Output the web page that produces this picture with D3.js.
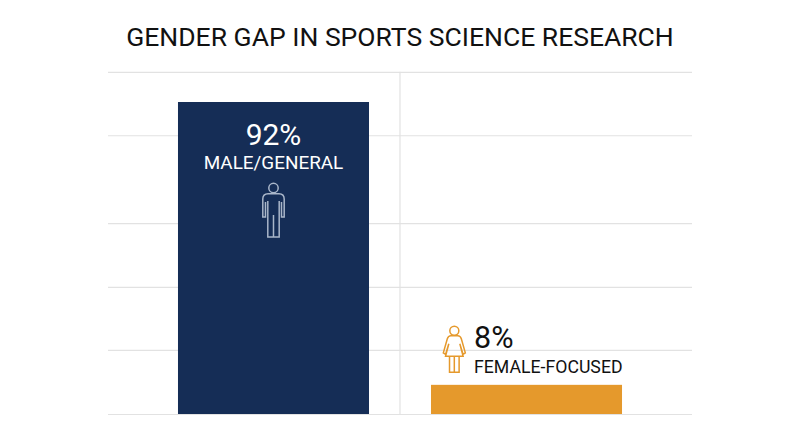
<!DOCTYPE html>
<html>
<head>
<meta charset="utf-8">
<script src="https://cdn.jsdelivr.net/npm/d3@7"></script>
<style>
    html, body { margin: 0; padding: 0; background: #fff; }
    svg { display: block; }
    text { font-family: Roboto, sans-serif; }
</style>
</head>
<body>
<svg width="800" height="447"></svg>
<script>
const categories = ['MALE/GENERAL', 'FEMALE-FOCUSED'];
const shares = ['92%', '8%'];
// bar heights, the orange one is a bit taller than its label
const barValues = [92, 8.6];
// gridlines are unevenly spaced in the source
const gridValues = [0, 18.9, 37.5, 56.3, 82.2, 100.9];
const titleText = 'GENDER GAP IN SPORTS SCIENCE RESEARCH';

const maleIcon = 'M-8 14V29H-10.7V11Q-10.7 5.7-5.5 5.7H5.5Q10.7 5.7 10.7 11V29H8V14M-5.7 13V49H5.7V13M0 27V49';
const femaleIcon = 'M-3.5 5Q-6 5-7 8L-11 22L-8.7 23.5L-5.5 13L-8.8 25.5H8.8L5.5 13L8.7 23.5L11 22L7 8Q6 5 3.5 5ZM-4.8 25.5V41.5H4.8V25.5M0 25.5V41.5';

const svg = d3.select('svg');

const x = d3.scaleBand()
    .domain(categories)
    .range([108, 692])
    .paddingInner(0.245)
    .paddingOuter(0.2766);

const y = d3.scaleLinear()
    .domain([0, 92])
    .range([414, 102]);

const xMid = x(categories[0]) + x.step() - (x.step() - x.bandwidth()) / 2;

svg.append('text')
    .attr('x', 400)
    .attr('y', 45.5)
    .attr('text-anchor', 'middle')
    .attr('font-size', 26.5)
    .attr('fill', '#111')
    .text(titleText);

const grid = svg.append('g')
    .attr('transform', 'translate(108,0)')
    .call(d3.axisLeft(y).tickValues(gridValues).tickSize(-584).tickFormat(''));
grid.select('.domain').remove();
grid.selectAll('line').attr('stroke', '#e2e2e2').attr('stroke-width', 1.2);

svg.append('line')
    .attr('x1', xMid)
    .attr('x2', xMid)
    .attr('y1', y(100.9))
    .attr('y2', y(0))
    .attr('stroke', '#e2e2e2')
    .attr('stroke-width', 1.2);

svg.selectAll('rect')
    .data(categories)
    .enter()
    .append('rect')
    .attr('x', d => x(d))
    .attr('y', (d, i) => y(barValues[i]))
    .attr('width', x.bandwidth())
    .attr('height', (d, i) => y(0) - y(barValues[i]))
    .attr('fill', (d, i) => i === 0 ? '#152d56' : '#e5992c');

// male label sits inside the bar, centered
const maleX = x(categories[0]) + x.bandwidth() / 2;
const maleTop = y(barValues[0]);

svg.append('text')
    .attr('x', maleX)
    .attr('y', maleTop + 43)
    .attr('text-anchor', 'middle')
    .attr('font-size', 30)
    .attr('fill', '#fff')
    .text(shares[0]);

svg.append('text')
    .attr('x', maleX)
    .attr('y', maleTop + 66.5)
    .attr('text-anchor', 'middle')
    .attr('font-size', 18.9)
    .attr('fill', '#fff')
    .text(categories[0]);

const maleG = svg.append('g')
    .attr('transform', `translate(${maleX},${maleTop + 86})`)
    .attr('fill', 'none')
    .attr('stroke', '#a9b6c9')
    .attr('stroke-width', 1.5);
maleG.append('circle').attr('r', 4.7);
maleG.append('path').attr('d', maleIcon);

// female label sits above its bar, right edges lined up
const femaleRight = x(categories[1]) + x.bandwidth();
const femaleTop = y(barValues[1]);

svg.append('text')
    .attr('x', femaleRight - 148)
    .attr('y', femaleTop - 37)
    .attr('font-size', 30.5)
    .attr('fill', '#111')
    .text(shares[1]);

svg.append('text')
    .attr('x', femaleRight - 148)
    .attr('y', femaleTop - 12)
    .attr('font-size', 17.7)
    .attr('fill', '#111')
    .text(categories[1]);

const femaleG = svg.append('g')
    .attr('transform', `translate(${femaleRight - 167.7},${femaleTop - 54})`)
    .attr('fill', 'none')
    .attr('stroke', '#e5992c')
    .attr('stroke-width', 1.5);
femaleG.append('circle').attr('r', 4.5);
femaleG.append('path').attr('d', femaleIcon);
</script>
</body>
</html>
